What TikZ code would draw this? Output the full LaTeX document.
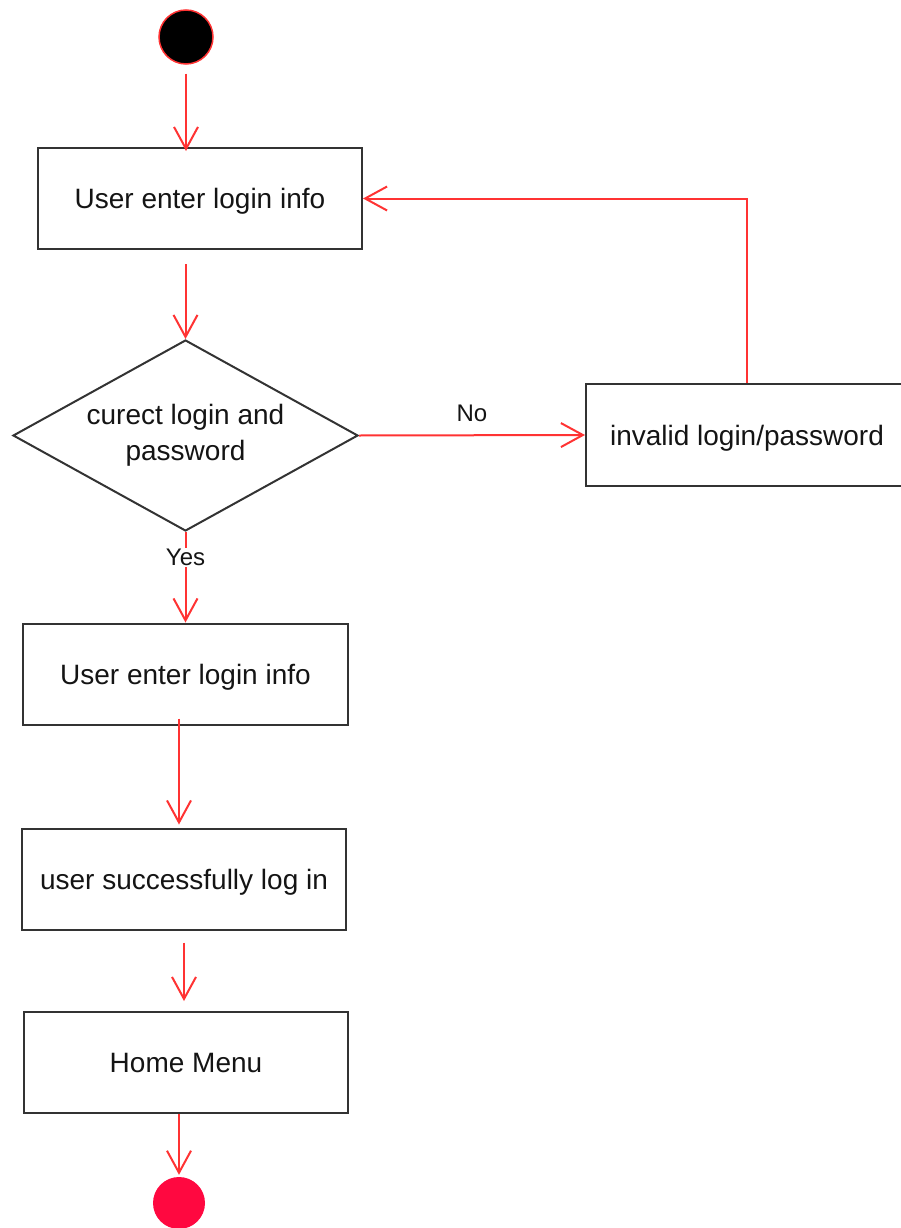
\documentclass[tikz,border=0pt]{standalone}
\usepackage{fontspec}
\setmainfont{Liberation Sans}
\usetikzlibrary{arrows.meta,shapes.geometric,calc}
\definecolor{flowred}{RGB}{255,51,51}
\definecolor{boxgray}{RGB}{51,51,51}
\definecolor{endred}{RGB}{255,8,64}
\definecolor{inkgray}{RGB}{20,20,20}

\begin{document}
\begin{tikzpicture}[x=1pt,y=-1pt,
  every node/.style={font=\fontsize{28}{36}\selectfont, text=inkgray},
  action/.style={draw=boxgray, line width=2pt, rectangle, text depth=0pt,
    minimum width=324pt, minimum height=101pt, inner sep=0pt, align=center},
  decision/.style={draw=boxgray, line width=2pt, diamond, aspect=1.806,
    minimum width=345pt, minimum height=191pt, inner sep=0pt, align=center},
  flow/.style={draw=flowred, line width=2pt,
    -{Straight Barb[length=22pt,width=24pt]}},
  guard/.style={font=\fontsize{24}{28}\selectfont, inner sep=1pt},
]
\useasboundingbox (0,0) rectangle (900,1228);

% states
\node[circle, fill=black, draw=flowred, line width=1.5pt,
      minimum size=54pt, inner sep=0pt] (start) at (186,37) {};
\node[action] (enter) at (200,198.5) {User enter login info};
\node[decision] (check) at (185.5,435.5) {curect login and\\password};
\node[action, minimum width=322pt, minimum height=102pt] (invalid) at (747,435) {invalid login/password};
\node[action, minimum width=325pt] (enter2) at (185.5,674) {User enter login info};
\node[action] (success) at (184,879) {user successfully log in};
\node[action] (home) at (186,1062.5) {Home Menu};
\node[circle, fill=endred, minimum size=52pt, inner sep=0pt] (stop) at (179,1203) {};

% transitions
\draw[flow, shorten <=9pt, shorten >=-4pt] (start.south) -- (start.south |- enter.north);
\draw[flow, shorten <=14pt] (enter.south -| check.north) -- (check.north);
\draw[flow] (check.east) -- (invalid.west) node[guard, midway, above=12pt] {No};
\draw[flow] (invalid.north) |- (enter.east);
\draw[flow] (check.south) -- (enter2.north) node[guard, pos=0.28, fill=white] {Yes};
\coordinate (a2) at ([xshift=-6.5pt]enter2.south);
\draw[flow, shorten <=-7pt, shorten >=3pt] (a2) -- (a2 |- success.north);
\draw[flow, shorten <=12pt, shorten >=10pt] (success.south) -- (success.south |- home.north);
\draw[flow, shorten >=2pt] (stop.north |- home.south) -- (stop.north);
\end{tikzpicture}
\end{document}
